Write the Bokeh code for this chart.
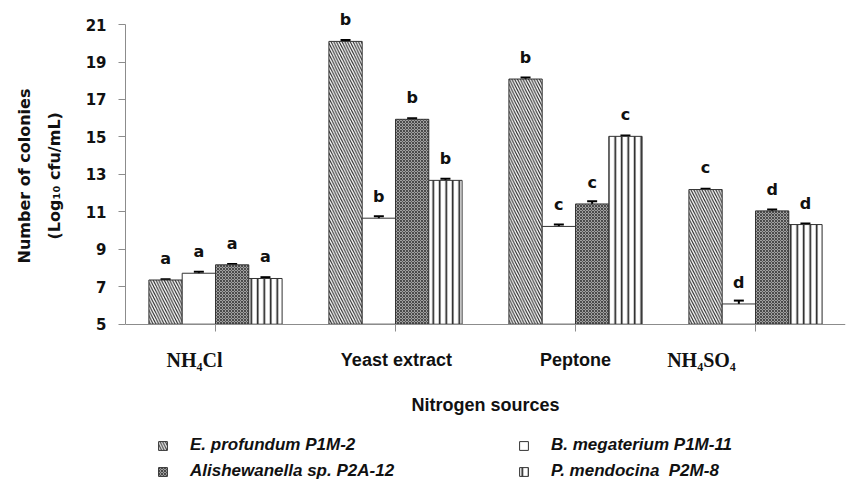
from bokeh.plotting import figure
from bokeh.models import (FactorRange, ColumnDataSource, Whisker, FixedTicker, Legend,
                          LegendItem, Label, Range1d, TeeHead, Title)
from bokeh.transform import dodge
from bokeh.core.properties import value
from bokeh.embed import file_html
from bokeh.resources import INLINE

# ---------------- data ----------------
sources = ["NH4Cl", "Yeast extract", "Peptone", "NH4SO4"]
source_labels = ["NH\u2084Cl", "Yeast extract", "Peptone", "NH\u2084SO\u2084"]

series_keys = ["e_profundum", "b_megaterium", "alishewanella", "p_mendocina"]
series_labels = ["E. profundum P1M-2", "B. megaterium P1M-11",
                 "Alishewanella sp. P2A-12", "P. mendocina  P2M-8"]

e_profundum = [7.36, 20.10, 18.09, 12.19]
b_megaterium = [7.72, 10.66, 10.22, 6.08]
alishewanella = [8.17, 15.94, 11.42, 11.05]
p_mendocina = [7.44, 12.68, 15.03, 10.32]

e_profundum_err = [0.04, 0.08, 0.08, 0.04]
b_megaterium_err = [0.08, 0.10, 0.10, 0.18]
alishewanella_err = [0.05, 0.06, 0.14, 0.07]
p_mendocina_err = [0.07, 0.08, 0.05, 0.05]

e_profundum_letters = ["a", "b", "b", "c"]
b_megaterium_letters = ["a", "b", "c", "d"]
alishewanella_letters = ["a", "b", "c", "d"]
p_mendocina_letters = ["a", "b", "c", "d"]

y_ticks = [5, 7, 9, 11, 13, 15, 17, 19, 21]

values = [e_profundum, b_megaterium, alishewanella, p_mendocina]
errors = [e_profundum_err, b_megaterium_err, alishewanella_err, p_mendocina_err]
letters = [e_profundum_letters, b_megaterium_letters, alishewanella_letters, p_mendocina_letters]

# ---------------- styles / layout ----------------
BAR_W = 0.185
offsets = [-1.5 * BAR_W, -0.5 * BAR_W, 0.5 * BAR_W, 1.5 * BAR_W]
LETTER_GAP = 1.15
label_dx = [-0.117, 0.005, 0.0, -0.30]
CAT_LABEL_Y = 3.08
XTITLE_Y = 0.68
legend_order = [0, 2, 1, 3]   # column-wise fill -> rows: (E, B), (A, P)

styles = [
    dict(fill_color="white", hatch_pattern="\\", hatch_scale=5.5, hatch_weight=1.1, hatch_color="#222222"),
    dict(fill_color="white"),
    dict(fill_color="#a0a0a0", hatch_pattern="x", hatch_scale=3, hatch_weight=0.8, hatch_color="#333333"),
    dict(fill_color="white", hatch_pattern="|", hatch_scale=6.5, hatch_weight=1.6, hatch_color="#111111"),
]

p = figure(x_range=FactorRange(*sources, range_padding=0),
           y_range=Range1d(-3.40, 21.75),
           frame_width=720, frame_height=471,
           output_backend="svg", toolbar_location=None,
           min_border_left=125, min_border_right=2, min_border_top=10, min_border_bottom=0)

p.xgrid.visible = False
p.ygrid.visible = False
p.outline_line_color = None
p.background_fill_color = "white"

renderers = []
for i, key in enumerate(series_keys):
    vals = values[i]
    errs = errors[i]
    src = ColumnDataSource(dict(
        source=sources,
        top=vals,
        upper=[v + e for v, e in zip(vals, errs)],
        lower=[v - e for v, e in zip(vals, errs)],
        letter=letters[i],
        letter_y=[v + LETTER_GAP for v in vals],
    ))
    x = dodge("source", offsets[i], range=p.x_range)
    r = p.vbar(x=x, top="top", bottom=y_ticks[0], width=BAR_W, source=src,
               line_color="#333333", line_width=1, **styles[i])
    renderers.append(r)
    w = Whisker(source=src, base=x, upper="upper", lower="lower",
                line_color="black", line_width=2,
                upper_head=TeeHead(size=10, line_width=2, line_color="black"),
                lower_head=TeeHead(size=10, line_width=2, line_color="black"))
    p.add_layout(w)
    p.text(x=x, y="letter_y", text="letter", source=src,
           text_align="center", text_baseline="middle",
           text_font=value("DejaVu Sans"), text_font_style="bold",
           text_font_size="16px", text_color="#111111")

# y axis
yax = p.yaxis[0]
yax.ticker = FixedTicker(ticks=y_ticks)
yax.bounds = (y_ticks[0], y_ticks[-1])
yax.axis_line_color = "#8c8c8c"
yax.major_tick_line_color = "#8c8c8c"
yax.major_tick_out = 7
yax.major_tick_in = 0
yax.minor_tick_line_color = None
yax.major_label_text_font = "DejaVu Sans"
yax.major_label_text_font_style = "bold"
yax.major_label_text_font_size = "15px"
yax.major_label_text_color = "#111111"
yax.major_label_standoff = 12

# y axis title (two lines) as side titles, centred on the 5..21 span
t2 = Title(text="(Log\u2081\u2080 cfu/mL)", align="left", offset=242,
           text_font="DejaVu Sans", text_font_style="bold", text_font_size="16px",
           text_color="#111111", standoff=38)
t1 = Title(text="Number of colonies", align="left", offset=218,
           text_font="DejaVu Sans", text_font_style="bold", text_font_size="16px",
           text_color="#111111", standoff=-20)
p.add_layout(t2, "left")
p.add_layout(t1, "left")

# x axis at value 5
xax = p.xaxis[0]
xax.fixed_location = y_ticks[0]
xax.axis_line_color = "#8c8c8c"
xax.major_tick_line_color = "#8c8c8c"
xax.major_tick_out = 7
xax.major_tick_in = 0
xax.major_label_text_color = None
xax.major_label_standoff = 0

for i, lab in enumerate(source_labels):
    serif = lab.startswith("NH")
    p.add_layout(Label(x=i + 0.5 + label_dx[i], y=CAT_LABEL_Y, text=lab,
                       text_align="center", text_baseline="middle",
                       text_font="Liberation Serif" if serif else "Liberation Sans",
                       text_font_style="bold",
                       text_font_size="20px" if serif else "18px",
                       text_color="#111111"))

p.add_layout(Label(x=len(sources) / 2, y=XTITLE_Y, text="Nitrogen sources",
                   text_align="center", text_baseline="middle",
                   text_font="Liberation Sans", text_font_style="bold",
                   text_font_size="18px", text_color="#111111"))

legend = Legend(items=[LegendItem(label=series_labels[i], renderers=[renderers[i]])
                       for i in legend_order],
                ncols=2, location=(32, 0))
legend.label_text_font = "Liberation Sans"
legend.label_text_font_style = "bold italic"
legend.label_text_font_size = "17px"
legend.label_text_color = "#111111"
legend.glyph_width = 11
legend.glyph_height = 11
legend.label_height = 14
legend.label_standoff = 22
legend.label_width = 322
legend.spacing = 6
legend.padding = 0
legend.margin = 0
legend.border_line_color = None
legend.background_fill_alpha = 0
p.add_layout(legend, "center")

open("out.html", "w").write(file_html(p, INLINE))
